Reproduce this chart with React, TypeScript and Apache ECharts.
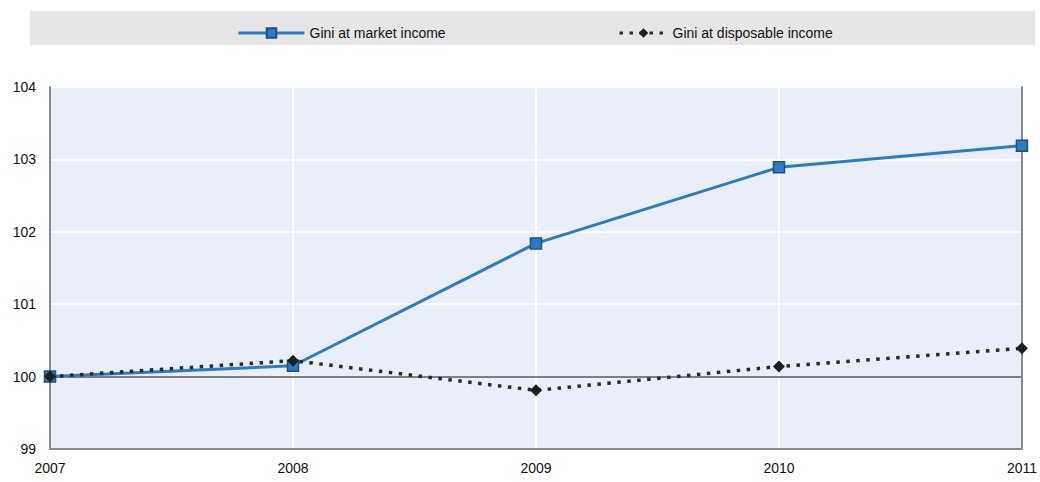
import React, { useEffect, useRef } from "react";
import * as echarts from "echarts";

const years = ["2007", "2008", "2009", "2010", "2011"];
const marketGini = [100, 100.15, 101.84, 102.89, 103.19];
const disposableGini = [100, 100.22, 99.81, 100.14, 100.39];
const seriesNames = ["Gini at market income", "Gini at disposable income"];

const FONT = "'Liberation Sans', Arial, sans-serif";

export default function App() {
  const ref = useRef<HTMLDivElement>(null);
  useEffect(() => {
    if (!ref.current) return;
    const chart = echarts.init(ref.current, undefined, { renderer: "svg" });
    const legendText = { fontFamily: FONT, fontSize: 14, color: "#111" };
    chart.setOption({
      animation: false,
      backgroundColor: "#ffffff",
      textStyle: { fontFamily: FONT },
      graphic: [
        {
          type: "rect",
          shape: { x: 30, y: 11, width: 1005, height: 34 },
          style: { fill: "#e6e6e6" },
          z: -1,
        },
      ],
      legend: [
        {
          left: 232,
          top: 21,
          itemWidth: 66,
          itemHeight: 12,
          textStyle: legendText,
          lineStyle: { width: 3 },
          data: [seriesNames[0]],
        },
        {
          left: 613,
          top: 21,
          itemWidth: 48,
          itemHeight: 12,
          textStyle: legendText,
          lineStyle: { width: 3 },
          data: [seriesNames[1]],
        },
      ],
      grid: {
        left: 50,
        right: 17,
        top: 87,
        bottom: 33,
        show: true,
        backgroundColor: "#e9eef8",
        borderWidth: 0,
      },
      xAxis: {
        type: "category",
        data: years,
        boundaryGap: false,
        axisLine: { show: true, lineStyle: { color: "#8a8a8a", width: 2 } },
        axisTick: { show: false },
        axisLabel: { fontSize: 14, color: "#111", margin: 12, fontFamily: FONT },
        splitLine: { show: true, lineStyle: { color: "#ffffff", width: 2 } },
      },
      yAxis: [
        {
          type: "value",
          min: 99,
          max: 104,
          interval: 1,
          axisLine: { show: true, lineStyle: { color: "#8a8a8a", width: 2 } },
          axisTick: { show: false },
          axisLabel: { fontSize: 14, color: "#111", margin: 14, fontFamily: FONT },
          splitLine: { show: true, lineStyle: { color: "#ffffff", width: 2 } },
        },
        {
          type: "value",
          position: "right",
          min: 99,
          max: 104,
          interval: 1,
          axisLine: { show: true, lineStyle: { color: "#8a8a8a", width: 2 } },
          axisTick: { show: false },
          axisLabel: { show: false },
          splitLine: { show: false },
        },
      ],
      series: [
        {
          name: seriesNames[0],
          type: "line",
          data: marketGini,
          symbol: "rect",
          symbolSize: 11,
          z: 3,
          lineStyle: { color: "#2b7cc4", width: 3 },
          itemStyle: { color: "#2b7cc4", borderColor: "#1f4f7a", borderWidth: 1.5 },
          markLine: {
            silent: true,
            symbol: "none",
            label: { show: false },
            lineStyle: { color: "#7f7f7f", width: 2, type: "solid" },
            data: [{ yAxis: 100 }],
            z: 1,
          },
        },
        {
          name: seriesNames[1],
          type: "line",
          data: disposableGini,
          symbol: "diamond",
          symbolSize: 12,
          z: 4,
          lineStyle: { color: "#2a2a2a", width: 3.5, type: [3.5, 6.5] },
          itemStyle: { color: "#1e1e1e" },
        },
      ],
    });
    return () => chart.dispose();
  }, []);
  return (
    <div
      ref={ref}
      style={{ position: "fixed", left: 0, top: 0, width: 1040, height: 482 }}
    />
  );
}
